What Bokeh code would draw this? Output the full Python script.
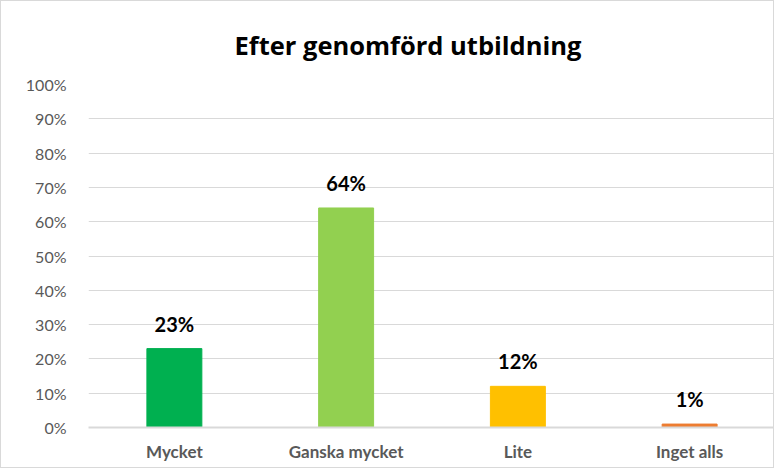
from bokeh.plotting import figure
from bokeh.models import ColumnDataSource, LabelSet, NumeralTickFormatter, FixedTicker
from bokeh.core.properties import value
from bokeh.embed import file_html
from bokeh.resources import INLINE

categories = ["Mycket", "Ganska mycket", "Lite", "Inget alls"]
values = [0.23, 0.64, 0.12, 0.01]
colors = ["#00B050", "#92D050", "#FFC000", "#ED7D31"]
labels = ["23%", "64%", "12%", "1%"]
title_text = "Efter genomförd utbildning"
y_ticks = [0, 0.1, 0.2, 0.3, 0.4, 0.5, 0.6, 0.7, 0.8, 0.9, 1.0]

FONT = "Lato"

src = ColumnDataSource(dict(cat=categories, val=values, color=colors, label=labels))

p = figure(x_range=categories, y_range=(0, 1), width=774, height=468,
           output_backend="svg", toolbar_location=None,
           min_border_left=87, min_border_right=0, min_border_top=83, min_border_bottom=42)
p.styles = {"border": "1px solid #d9d9d9"}
p.outline_line_color = None
p.background_fill_color = "white"
p.border_fill_color = "white"

p.title.text = title_text
p.title.align = "left"
p.title.offset = 146
p.title.standoff = 45
p.title.text_font = "Open Sans"
p.title.text_font_size = "25.5px"
p.title.text_font_style = "bold"
p.title.text_color = "black"

p.vbar(x="cat", top="val", width=0.32, color="color", source=src)

p.xgrid.grid_line_color = None
p.ygrid.grid_line_color = "#d9d9d9"
p.ygrid.grid_line_width = 1
p.yaxis.ticker = FixedTicker(ticks=y_ticks)
p.yaxis.formatter = NumeralTickFormatter(format="0%")
p.yaxis.axis_line_color = None
p.yaxis.major_tick_line_color = None
p.yaxis.minor_tick_line_color = None
p.yaxis.major_label_standoff = 16
p.yaxis.major_label_text_font = FONT
p.yaxis.major_label_text_font_size = "16px"
p.yaxis.major_label_text_color = "#595959"

p.xaxis.axis_line_color = "#d9d9d9"
p.xaxis.axis_line_width = 2
p.xaxis.major_tick_line_color = None
p.xaxis.minor_tick_line_color = None
p.xaxis.major_label_standoff = 7
p.xaxis.major_label_text_font = FONT
p.xaxis.major_label_text_font_size = "17px"
p.xaxis.major_label_text_font_style = "bold"
p.xaxis.major_label_text_color = "#595959"

ls = LabelSet(x="cat", y="val", text="label", source=src, text_align="center",
              text_baseline="bottom", y_offset=13, text_font=value(FONT),
              text_font_size=value("20px"), text_font_style="bold", text_color="black")
p.add_layout(ls)

open("out.html", "w").write(file_html(p, INLINE))
